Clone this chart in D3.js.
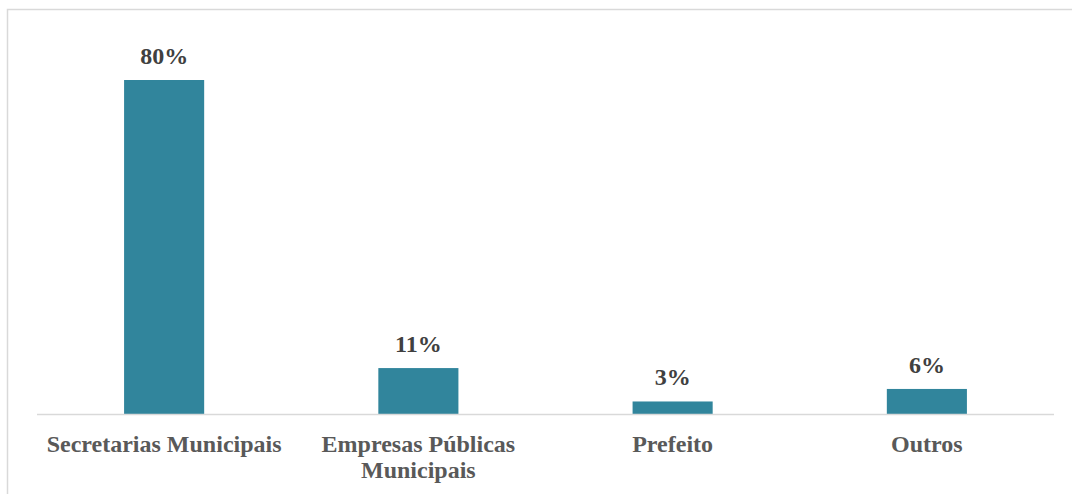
<!DOCTYPE html>
<html>
<head>
  <meta charset="utf-8">
  <script src="https://d3js.org/d3.v7.min.js"></script>
  <style>
    body { margin: 0; background: #fff; }
    svg { display: block; }
    .value { font-family: "Times New Roman", "Liberation Serif", serif; font-weight: 700; font-size: 24px; fill: #404040; }
    .cat { font-family: "Times New Roman", "Liberation Serif", serif; font-weight: 700; font-size: 24px; fill: #595959; }
  </style>
</head>
<body>
  <script>
    // chart data
    const categories = [["Secretarias Municipais"], ["Empresas Públicas", "Municipais"], ["Prefeito"], ["Outros"]];
    const values = [80, 11, 3, 6];
    const valueLabels = ["80%", "11%", "3%", "6%"];

    const width = 1072;
    const height = 494;
    const svg = d3.select("body").append("svg")
        .attr("width", width)
        .attr("height", height);

    // frame of the chart area
    svg.append("path")
        .attr("d", "M7.5,494 V9.5 H1072")
        .attr("fill", "none")
        .attr("stroke", "#d9d9d9")
        .attr("stroke-width", 1.5);

    const x = d3.scaleBand()
        .domain(d3.range(categories.length))
        .range([37, 1054])
        .paddingInner(0.685)
        .paddingOuter(0.3425);

    const y = d3.scaleLinear()
        .domain([0, 80])
        .range([414, 80]);

    svg.selectAll(".bar")
      .data(values)
      .join("rect")
        .attr("class", "bar")
        .attr("x", (d, i) => x(i))
        .attr("y", d => y(d))
        .attr("width", x.bandwidth())
        .attr("height", d => y(0) - y(d))
        .attr("fill", "#31859c");

    // baseline
    svg.append("line")
        .attr("x1", 37).attr("x2", 1054)
        .attr("y1", 414.5).attr("y2", 414.5)
        .attr("stroke", "#d9d9d9")
        .attr("stroke-width", 1.5);

    svg.selectAll(".value")
      .data(values)
      .join("text")
        .attr("class", "value")
        .attr("x", (d, i) => x(i) + x.bandwidth() / 2)
        .attr("y", d => y(d) - 16)
        .attr("text-anchor", "middle")
        .text((d, i) => valueLabels[i]);

    const cat = svg.selectAll(".cat")
      .data(categories)
      .join("text")
        .attr("class", "cat")
        .attr("text-anchor", "middle")
        .attr("x", (d, i) => x(i) + x.bandwidth() / 2)
        .attr("y", 452);

    cat.selectAll("tspan")
      .data(d => d)
      .join("tspan")
        .attr("x", function() { return this.parentNode.getAttribute("x"); })
        .attr("dy", (d, i) => i === 0 ? 0 : 26)
        .text(d => d);
  </script>
</body>
</html>
